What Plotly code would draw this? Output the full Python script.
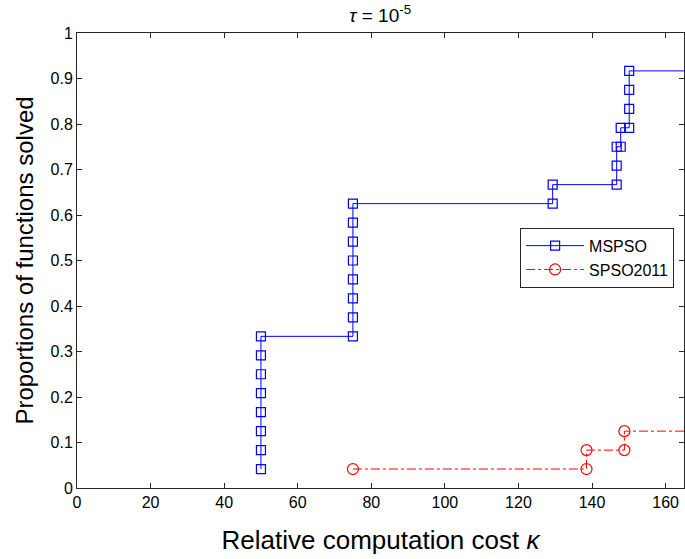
import plotly.graph_objects as go

# MSPSO step-profile vertices
mspso_x = [50, 50, 50, 50, 50, 50, 50, 50,
           75, 75, 75, 75, 75, 75, 75, 75,
           129.3, 129.3,
           146.7, 146.7, 146.7,
           147.8, 147.8,
           150.1, 150.1, 150.1, 150.1, 175]
mspso_y = [0.0417, 0.0833, 0.125, 0.1667, 0.2083, 0.25, 0.2917, 0.3333,
           0.3333, 0.375, 0.4167, 0.4583, 0.5, 0.5417, 0.5833, 0.625,
           0.625, 0.6667,
           0.6667, 0.7083, 0.75,
           0.75, 0.7917,
           0.7917, 0.8333, 0.875, 0.9167, 0.9167]

# SPSO2011 step-profile vertices
spso_x = [75, 138.5, 138.5, 148.8, 148.8, 175]
spso_y = [0.0417, 0.0417, 0.0833, 0.0833, 0.125, 0.125]

x_ticks = list(range(0, 161, 20))
y_ticks = [round(i * 0.1, 1) for i in range(11)]
y_labels = ["0"] + [f"{v:.1f}" for v in y_ticks[1:-1]] + ["1"]

FONT = "Liberation Sans, Arial"

fig = go.Figure()
fig.add_trace(go.Scatter(
    x=mspso_x, y=mspso_y, mode="lines+markers", name="MSPSO",
    line=dict(color="rgb(0,0,255)", width=1),
    marker=dict(symbol="square-open", size=9, color="rgb(0,0,255)", line=dict(width=1.2)),
))
fig.add_trace(go.Scatter(
    x=spso_x, y=spso_y, mode="lines+markers", name="SPSO2011",
    line=dict(color="rgb(255,0,0)", width=1, dash="dashdot"),
    marker=dict(symbol="circle-open", size=11, color="rgb(255,0,0)", line=dict(width=1.2)),
))

axis_common = dict(
    showgrid=False, zeroline=False, showline=True, linecolor="#262626", linewidth=1,
    mirror="ticks", ticks="inside", ticklen=5, tickcolor="#262626", automargin=False,
    tickfont=dict(family=FONT, size=16, color="#000000"),
)

fig.update_layout(
    width=685, height=559,
    margin=dict(l=77, r=1, t=33, b=71),
    paper_bgcolor="white", plot_bgcolor="white",
    title=dict(text="<i>τ</i> = 10<sup>-5</sup>", x=0.555, xanchor="center", y=0.972, yanchor="middle",
               automargin=False,
               font=dict(family=FONT, size=19, color="#000000")),
    xaxis=dict(range=[0, 165], tickvals=x_ticks, title=dict(text="Relative computation cost <i>κ</i>",
               font=dict(family=FONT, size=26, color="#000000"), standoff=20), **axis_common),
    yaxis=dict(range=[0, 1], tickvals=y_ticks, ticktext=y_labels,
               title=dict(text="Proportions of functions solved",
               font=dict(family=FONT, size=24, color="#000000"), standoff=10), **axis_common),
    legend=dict(x=0.730, y=0.572, xanchor="left", yanchor="top",
                bgcolor="white", bordercolor="#262626", borderwidth=1,
                font=dict(family=FONT, size=16, color="#000000"),
                tracegroupgap=0, itemwidth=58),
    showlegend=True,
)

fig.write_html("out.html", config={"displayModeBar": False},
               post_script="document.body.style.margin='0';")
